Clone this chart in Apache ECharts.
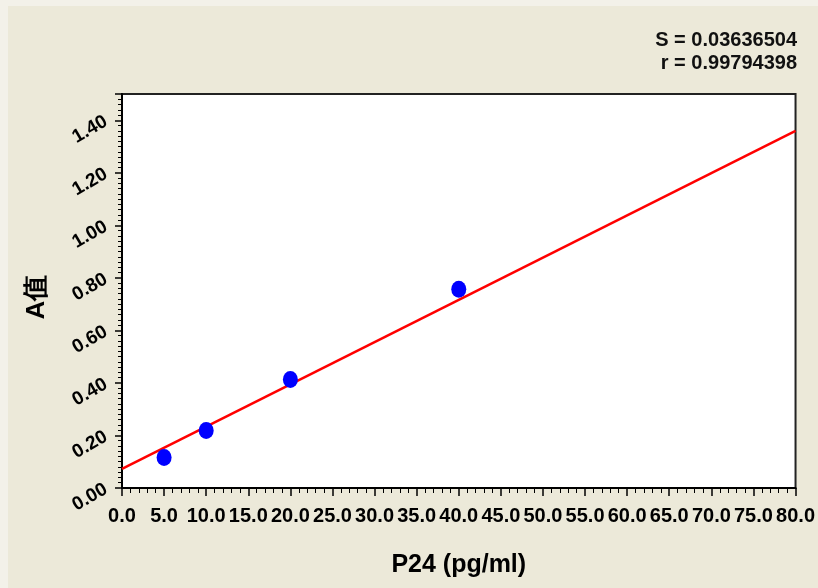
<!DOCTYPE html>
<html>
<head>
<meta charset="utf-8">
<script src="https://cdn.jsdelivr.net/npm/echarts@6/dist/echarts.min.js"></script>
<style>
  html, body { margin: 0; padding: 0; background: #ECE9D9; }
  #chart { width: 818px; height: 588px; }
</style>
</head>
<body>
<div id="chart"></div>
<script>
// measured points (P24 concentration, absorbance)
const pointX = [5, 10, 20, 40]
const pointY = [0.116, 0.219, 0.413, 0.757]
// fitted line end points
const lineX = [0, 80]
const lineY = [0.073, 1.36]
const statS = 'S = 0.03636504'
const statR = 'r = 0.99794398'

const font = '"Liberation Sans", Arial, sans-serif'
const statStyle = { fontSize: 20, fontWeight: 'bold', color: '#111' }

const chart = echarts.init(document.getElementById('chart'))
const option = {
  backgroundColor: '#ECE9D9',
  animation: false,
  textStyle: { fontFamily: font },
  graphic: [
    { type: 'rect', left: 0, top: 0, shape: { width: 8, height: 588 }, style: { fill: '#F3F1E9' }, silent: true },
    { type: 'rect', left: 0, top: 0, shape: { width: 818, height: 6 }, style: { fill: '#F3F1E9' }, silent: true },
  ],
  title: [
    { text: statS, right: 21, top: 30, padding: 0, textStyle: statStyle },
    { text: statR, right: 21, top: 53, padding: 0, textStyle: statStyle },
  ],
  grid: {
    left: 122,
    right: 19,
    top: 94,
    bottom: 100,
    show: true,
    backgroundColor: '#fff',
    borderColor: '#222',
    borderWidth: 2,
  },
  xAxis: {
    type: 'value',
    min: 0,
    max: 80,
    interval: 5,
    name: 'P24 (pg/ml)',
    nameLocation: 'middle',
    nameGap: 65,
    nameTextStyle: { fontSize: 25, fontWeight: 'bold', color: '#000' },
    axisLine: { show: true, lineStyle: { color: '#000', width: 2 } },
    axisTick: { show: true, length: 8, lineStyle: { color: '#000', width: 1.5 } },
    minorTick: { show: true, splitNumber: 5, length: 5, lineStyle: { color: '#000', width: 1 } },
    splitLine: { show: false },
    axisLabel: {
      margin: 18,
      fontSize: 20,
      fontWeight: 'bold',
      color: '#000',
      formatter: v => v.toFixed(1),
    },
  },
  yAxis: {
    type: 'value',
    min: 0,
    max: 1.5,
    interval: 0.2,
    name: 'A值',
    nameLocation: 'middle',
    nameGap: 72,
    nameRotate: 90,
    nameTextStyle: { fontSize: 26, fontWeight: 'bold', color: '#000', padding: [0, 12, 0, 0] },
    axisLine: { show: true, lineStyle: { color: '#000', width: 2 } },
    axisTick: { show: true, length: 7, lineStyle: { color: '#000', width: 1.5 } },
    minorTick: { show: true, splitNumber: 10, length: 4, lineStyle: { color: '#000', width: 1 } },
    splitLine: { show: false },
    axisLabel: {
      margin: 16,
      rotate: 30,
      fontSize: 19,
      fontWeight: 'bold',
      color: '#000',
      showMaxLabel: false,
      formatter: v => v.toFixed(2),
    },
  },
  series: [
    {
      type: 'line',
      data: lineX.map((x, i) => [x, lineY[i]]),
      symbol: 'none',
      lineStyle: { color: '#FF0000', width: 2.5 },
      z: 2,
    },
    {
      type: 'scatter',
      data: pointX.map((x, i) => [x, pointY[i]]),
      symbol: 'circle',
      symbolSize: [15, 17],
      itemStyle: { color: '#0000FF', opacity: 1 },
      z: 3,
    },
  ],
}
chart.setOption(option)
</script>
</body>
</html>
